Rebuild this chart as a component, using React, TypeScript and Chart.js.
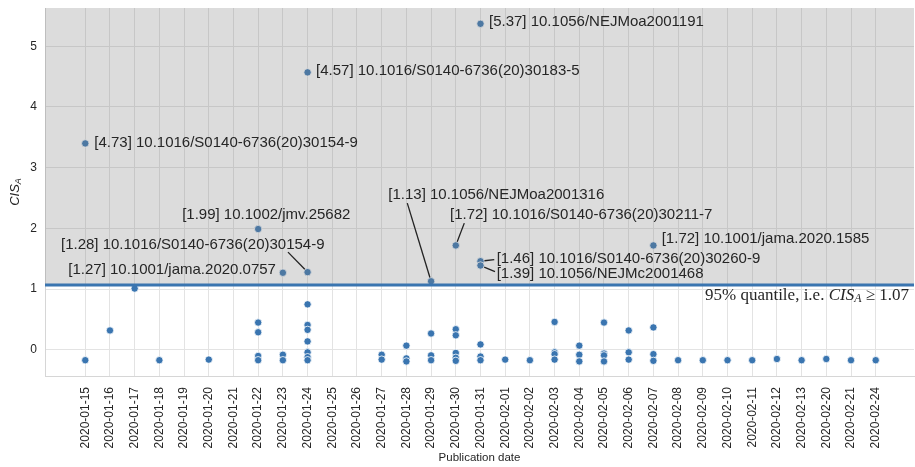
import React, { useEffect, useRef } from 'react';
import { Chart, registerables } from 'chart.js';

Chart.register(...registerables);

// Publication dates on the x axis (one column per date)
const dates = [
  '2020-01-15', '2020-01-16', '2020-01-17', '2020-01-18', '2020-01-19', '2020-01-20',
  '2020-01-21', '2020-01-22', '2020-01-23', '2020-01-24', '2020-01-25', '2020-01-26',
  '2020-01-27', '2020-01-28', '2020-01-29', '2020-01-30', '2020-01-31', '2020-02-01',
  '2020-02-02', '2020-02-03', '2020-02-04', '2020-02-05', '2020-02-06', '2020-02-07',
  '2020-02-08', '2020-02-09', '2020-02-10', '2020-02-11', '2020-02-12', '2020-02-13',
  '2020-02-20', '2020-02-21', '2020-02-24',
];

// CIS_A of every publication, grouped by publication date (same order as `dates`)
const cisByDate: number[][] = [
  [3.4, -0.17],
  [0.32],
  [1.01],
  [-0.17],
  [],
  [-0.16],
  [],
  [1.99, 0.45, 0.29, -0.1, -0.17],
  [1.27, -0.08, -0.17],
  [4.57, 1.28, 0.75, 0.41, 0.33, 0.14, -0.04, -0.12, -0.17],
  [],
  [],
  [-0.08, -0.16],
  [0.07, -0.14, -0.19],
  [1.13, 0.27, -0.09, -0.17],
  [1.72, 0.34, 0.24, -0.05, -0.13, -0.18],
  [5.37, 1.46, 1.39, 0.09, -0.11, -0.17],
  [-0.16],
  [-0.17],
  [0.46, -0.04, -0.07, -0.16],
  [0.07, -0.08, -0.19],
  [0.45, -0.06, -0.09, -0.19],
  [0.32, -0.04, -0.16],
  [1.72, 0.37, -0.07, -0.18],
  [-0.17],
  [-0.17],
  [-0.17],
  [-0.17],
  [-0.15],
  [-0.17],
  [-0.15],
  [-0.17],
  [-0.17],
];

// Threshold: 95% quantile of CIS_A
const quantile95 = 1.07;

// Publications that get a DOI note
const noteDates = [
  '2020-01-15', '2020-01-24', '2020-01-31', '2020-01-22', '2020-01-24', '2020-01-23',
  '2020-01-29', '2020-01-30', '2020-01-31', '2020-01-31', '2020-02-07',
];
const noteCis = [3.4, 4.57, 5.37, 1.99, 1.28, 1.27, 1.13, 1.72, 1.46, 1.39, 1.72];
const noteScores = [4.73, 4.57, 5.37, 1.99, 1.28, 1.27, 1.13, 1.72, 1.46, 1.39, 1.72];
const noteDois = [
  '10.1016/S0140-6736(20)30154-9',
  '10.1016/S0140-6736(20)30183-5',
  '10.1056/NEJMoa2001191',
  '10.1002/jmv.25682',
  '10.1016/S0140-6736(20)30154-9',
  '10.1001/jama.2020.0757',
  '10.1056/NEJMoa2001316',
  '10.1016/S0140-6736(20)30211-7',
  '10.1016/S0140-6736(20)30260-9',
  '10.1056/NEJMc2001468',
  '10.1001/jama.2020.1585',
];

// Note placement: text start offset from the point (px) and optional leader start
const notePlacement: { dx: number; dy: number; lead?: [number, number] }[] = [
  { dx: 9, dy: -0.5 },
  { dx: 8.5, dy: -1.5 },
  { dx: 8.5, dy: -2 },
  { dx: -76, dy: -14 },
  { dx: -246.6, dy: -27, lead: [-19.6, -20] },
  { dx: -214.6, dy: -3 },
  { dx: -42.8, dy: -86.4, lead: [-23.8, -78.1] },
  { dx: -5.8, dy: -30.6, lead: [8.5, -22.3] },
  { dx: 16.2, dy: -2.1, lead: [13.8, -1.6] },
  { dx: 16.2, dy: 8.4, lead: [14.5, 6.1] },
  { dx: 8.3, dy: -6.6 },
];

const BLUE = '#3a75b0';
const TEXT = '#262626';
const SANS = '"Liberation Sans", Arial, Helvetica, sans-serif';
const SERIF = '"Liberation Serif", "Times New Roman", serif';

type Seg = { text: string; font: string; shift?: number };

function segWidth(ctx: CanvasRenderingContext2D, segs: Seg[]) {
  let w = 0;
  for (const s of segs) {
    ctx.font = s.font;
    w += ctx.measureText(s.text).width;
  }
  return w;
}

function drawSegs(ctx: CanvasRenderingContext2D, segs: Seg[], x: number, y: number) {
  let cx = x;
  for (const s of segs) {
    ctx.font = s.font;
    ctx.fillText(s.text, cx, y + (s.shift || 0));
    cx += ctx.measureText(s.text).width;
  }
}

const overlayPlugin = {
  id: 'cisOverlay',
  afterDatasetsDraw(chart: any) {
    const { ctx, chartArea: a, scales } = chart;
    const xs = scales.x;
    const ys = scales.y;
    const yq = ys.getPixelForValue(quantile95);
    ctx.save();

    // shaded region above the threshold
    ctx.fillStyle = 'rgba(128,128,128,0.276)';
    ctx.fillRect(a.left, a.top, a.right - a.left, yq - a.top);

    // threshold line
    ctx.strokeStyle = BLUE;
    ctx.lineWidth = 3;
    ctx.beginPath();
    ctx.moveTo(a.left, yq);
    ctx.lineTo(a.right, yq);
    ctx.stroke();

    // DOI notes
    ctx.fillStyle = TEXT;
    ctx.strokeStyle = '#222';
    ctx.lineWidth = 1.3;
    ctx.textBaseline = 'middle';
    ctx.textAlign = 'left';
    ctx.font = `15px ${SANS}`;
    noteDates.forEach((d, i) => {
      const px = xs.getPixelForValue(dates.indexOf(d));
      const py = ys.getPixelForValue(noteCis[i]);
      const p = notePlacement[i];
      ctx.fillText(`[${noteScores[i].toFixed(2)}] ${noteDois[i]}`, px + p.dx, py + p.dy);
      if (p.lead) {
        const sx = px + p.lead[0];
        const sy = py + p.lead[1];
        const len = Math.hypot(px - sx, py - sy);
        const k = (len - 4) / len;
        ctx.beginPath();
        ctx.moveTo(sx, sy);
        ctx.lineTo(sx + (px - sx) * k, sy + (py - sy) * k);
        ctx.stroke();
      }
    });

    // threshold caption
    const fs = 17;
    const segs: Seg[] = [
      { text: '95% quantile, i.e. ', font: `${fs}px ${SERIF}` },
      { text: 'CIS', font: `italic ${fs}px ${SERIF}` },
      { text: 'A', font: `italic ${fs * 0.7}px ${SERIF}`, shift: 3 },
      { text: ' \u2265 1.07', font: `${fs}px ${SERIF}` },
    ];
    const w = segWidth(ctx, segs);
    ctx.textBaseline = 'middle';
    drawSegs(ctx, segs, a.right - 5 - w, yq + 11);
    ctx.restore();
  },
  afterDraw(chart: any) {
    const { ctx, chartArea: a } = chart;
    ctx.save();
    ctx.fillStyle = TEXT;
    ctx.textBaseline = 'middle';
    ctx.textAlign = 'center';
    ctx.font = `11.5px ${SANS}`;
    ctx.fillText('Publication date', (a.left + a.right) / 2, 458);

    // y axis title: italic CIS with subscript A
    ctx.translate(15, (a.top + a.bottom) / 2);
    ctx.rotate(-Math.PI / 2);
    ctx.textAlign = 'left';
    const segs: Seg[] = [
      { text: 'CIS', font: `italic 13px ${SANS}` },
      { text: 'A', font: `italic 9px ${SANS}`, shift: 3 },
    ];
    const w = segWidth(ctx, segs);
    drawSegs(ctx, segs, -w / 2, 0);
    ctx.restore();
  },
};

export default function App() {
  const canvasRef = useRef<HTMLCanvasElement | null>(null);

  useEffect(() => {
    document.body.style.margin = '0';
    const canvas = canvasRef.current;
    if (!canvas) return;

    const points: { x: number; y: number }[] = [];
    cisByDate.forEach((vals, i) => vals.forEach((v) => points.push({ x: i, y: v })));

    const tickFont = { family: SANS, size: 12 };

    const chart = new Chart(canvas, {
      type: 'scatter',
      data: {
        datasets: [
          {
            data: points,
            backgroundColor: BLUE,
            borderColor: '#ffffff',
            borderWidth: 0.8,
            pointRadius: 3.7,
            pointHoverRadius: 3.7,
          },
        ],
      },
      options: {
        animation: false,
        responsive: false,
        events: [],
        layout: { autoPadding: false, padding: { top: 8, right: 1, left: 0, bottom: 0 } },
        plugins: { legend: { display: false }, tooltip: { enabled: false } },
        scales: {
          x: {
            type: 'linear',
            min: -1.63,
            max: 33.55,
            afterBuildTicks: (s: any) => {
              s.ticks = dates.map((_, i) => ({ value: i }));
            },
            afterFit: (s: any) => {
              s.height = 91;
              s.paddingLeft = 0;
              s.paddingRight = 0;
            },
            grid: { color: '#e3e3e3', lineWidth: 1, tickLength: 0 },
            border: { display: true, color: '#d6d6d6' },
            ticks: {
              autoSkip: false,
              minRotation: 90,
              maxRotation: 90,
              padding: 11,
              color: TEXT,
              font: tickFont,
              callback: (v: any) => dates[v] ?? '',
            },
          },
          y: {
            type: 'linear',
            min: -0.43,
            max: 5.63,
            afterBuildTicks: (s: any) => {
              s.ticks = [0, 1, 2, 3, 4, 5].map((v) => ({ value: v }));
            },
            afterFit: (s: any) => {
              s.width = 45;
              s.paddingTop = 0;
              s.paddingBottom = 0;
            },
            grid: { color: '#e3e3e3', lineWidth: 1, tickLength: 0 },
            border: { display: true, color: '#d6d6d6' },
            ticks: {
              padding: 8,
              color: TEXT,
              font: tickFont,
              callback: (v: any) => String(v),
            },
          },
        },
      },
      plugins: [overlayPlugin],
    });

    return () => chart.destroy();
  }, []);

  return (
    <div style={{ width: 915, height: 467 }}>
      <canvas ref={canvasRef} width={915} height={467} style={{ display: 'block' }} />
    </div>
  );
}
